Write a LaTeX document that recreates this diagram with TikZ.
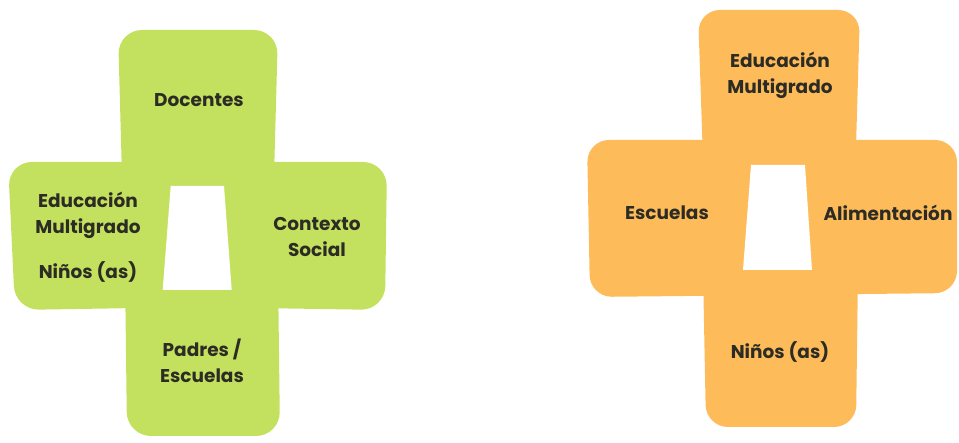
\documentclass[tikz,border=0pt]{standalone}
\usepackage{fontspec}
\setmainfont{Poppins}
\usepackage[dvipsnames]{xcolor}
\usepackage{tikz}
\definecolor{PetalGreen}{HTML}{C3E15F}
\definecolor{PetalOrange}{HTML}{FEBB5A}
\definecolor{LabelGray}{HTML}{2C2C24}
\begin{document}
\begin{tikzpicture}[x = 1pt, y = -1pt,
              petaltext/.style = {text = LabelGray, align = center, font = \fontsize{18.5}{26}\selectfont\bfseries}]
              \useasboundingbox (0, 0) rectangle (959, 443);
              % green cross
              \fill [fill = PetalGreen, rounded corners = 24pt] (118, 30) -- (278, 30) -- (272, 250) -- (124, 250) -- cycle;
              \fill [fill = PetalGreen, rounded corners = 24pt] (8, 162) -- (200, 162) -- (200, 307) -- (15, 310) -- cycle;
              \fill [fill = PetalGreen, rounded corners = 24pt] (190, 162) -- (387, 162) -- (385, 310) -- (190, 307) -- cycle;
              \fill [fill = PetalGreen, rounded corners = 24pt] (125, 270) -- (278, 270) -- (280, 436) -- (127, 436) -- cycle;
              \fill [fill = white] (170.7, 186) -- (224, 186) -- (231.7, 290) -- (162.7, 290) -- cycle;
              % orange cross
              \fill [fill = PetalOrange, rounded corners = 22pt] (698, 10) -- (860, 10) -- (853, 250) -- (706, 250) -- cycle;
              \fill [fill = PetalOrange, rounded corners = 22pt] (587, 140) -- (780, 140) -- (780, 295) -- (590, 297) -- cycle;
              \fill [fill = PetalOrange, rounded corners = 22pt] (770, 140) -- (957, 140) -- (957, 293) -- (770, 295) -- cycle;
              \fill [fill = PetalOrange, rounded corners = 22pt] (703, 270) -- (858, 270) -- (856, 427) -- (706, 427) -- cycle;
              \fill [fill = white] (751, 165) -- (805, 165) -- (812, 270) -- (743, 270) -- cycle;
              % labels
              \node [petaltext] (docentes) at (199, 100) {Docentes};
              \node [petaltext] (eduLeft) at (88, 215) {Educación\\Multigrado};
              \node [petaltext] (ninosLeft) at (88, 272) {Niños (as)};
              \node [petaltext] (contexto) at (317, 237.5) {Contexto\\Social};
              \node [petaltext] (padres) at (202, 360.5) {Padres /\\Escuelas};
              \node [petaltext] (eduRight) at (780, 75) {Educación\\Multigrado};
              \node [petaltext] (escuelas) at (667, 213) {Escuelas};
              \node [petaltext] (alimentacion) at (888, 213) {Alimentación};
              \node [petaltext] (ninosRight) at (780, 352) {Niños (as)};
\end{tikzpicture}
\end{document}
